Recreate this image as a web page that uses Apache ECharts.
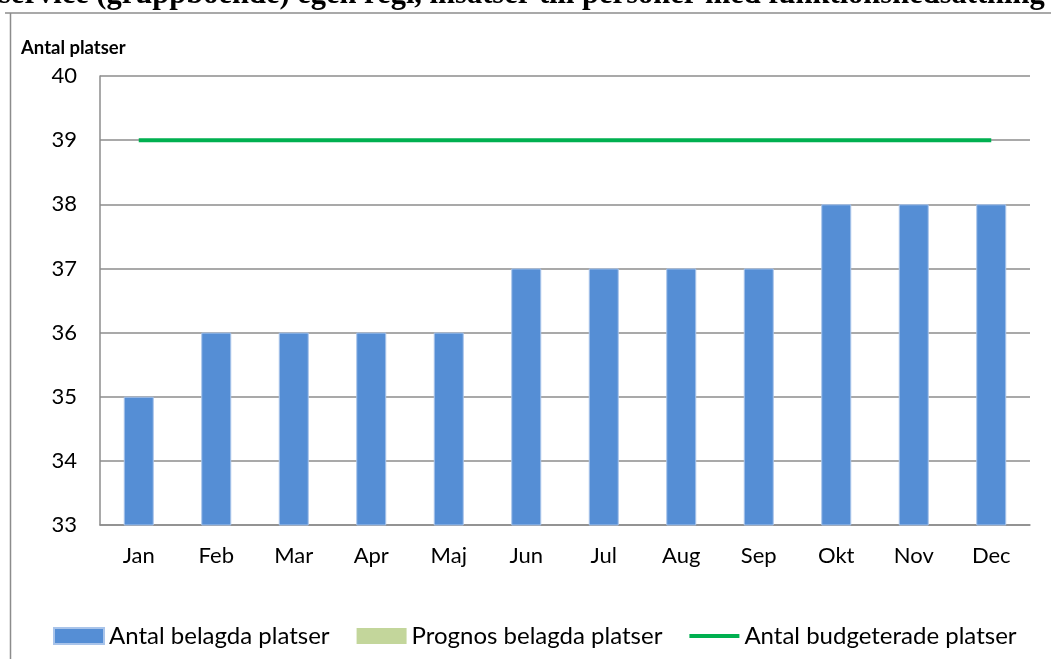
<!DOCTYPE html>
<html>
<head>
    <meta charset="utf-8">
    <title>Antal platser</title>
    <script src="https://cdn.jsdelivr.net/npm/echarts@6/dist/echarts.min.js"></script>
	<style>
	html, body { margin: 0; padding: 0; background: #fff; }
	#main {
		width: 1051px;
		height: 659px;
	}
	</style>
</head>
<body>
    <div id="main"></div>
    <script type="text/javascript">
        // data
        var months = ['Jan', 'Feb', 'Mar', 'Apr', 'Maj', 'Jun', 'Jul', 'Aug', 'Sep', 'Okt', 'Nov', 'Dec'];
        var belagda = [35, 36, 36, 36, 36, 37, 37, 37, 37, 38, 38, 38];
        var prognos = [];
        var budget = [39, 39, 39, 39, 39, 39, 39, 39, 39, 39, 39, 39];
        var yTicks = { min: 33, max: 40, step: 1 };

        var font = 'Lato, "Open Sans", sans-serif';
        var myChart = echarts.init(document.getElementById('main'));
		var option = {
			backgroundColor: '#ffffff',
			animation: false,
			graphic: [
				{
					type: 'text',
					left: -1,
					top: -20,
					style: {
						text: 'service (gruppboende) egen regi, insatser till personer med funktionsnedsättning',
						font: 'bold 30.5px "Liberation Serif", "DejaVu Serif", serif',
						fill: '#000'
					}
				},
				{
					type: 'polyline',
					shape: { points: [[5, 13], [1051, 13]] },
					style: { stroke: '#8c8c8c', lineWidth: 1.5 }
				},
				{
					type: 'polyline',
					shape: { points: [[10.5, 13], [10.5, 659]] },
					style: { stroke: '#8c8c8c', lineWidth: 1.5 }
				},
				{
					type: 'text',
					left: 21,
					top: 39,
					style: {
						text: 'Antal platser',
						font: 'bold 18.5px ' + font,
						fill: '#000'
					}
				}
			],
			legend: {
				left: 48,
				top: 619,
				itemWidth: 50,
				itemHeight: 16,
				itemGap: 27,
				textStyle: {
					color: '#000',
					fontSize: 24,
					fontFamily: font
				},
				data: [
					{ name: 'Antal belagda platser', icon: 'rect' },
					{ name: 'Prognos belagda platser', icon: 'rect' },
					{ name: 'Antal budgeterade platser', icon: 'path://M0,0M50,16M0,6H50V10H0Z' }
				]
			},
			grid: {
				left: 100,
				right: 21,
				top: 76,
				bottom: 134,
				containLabel: false
			},
			xAxis: {
				type: 'category',
				data: months,
				axisLine: { lineStyle: { color: '#8c8c8c', width: 1.5 } },
				axisTick: { show: false },
				axisLabel: {
					color: '#000',
					fontSize: 22,
					fontFamily: font,
					margin: 20
				}
			},
			yAxis: {
				type: 'value',
				min: yTicks.min,
				max: yTicks.max,
				interval: yTicks.step,
				axisLine: { show: true, lineStyle: { color: '#8c8c8c', width: 1.5 } },
				axisTick: { show: false },
				splitLine: { lineStyle: { color: '#8c8c8c', width: 1.5 } },
				axisLabel: {
					color: '#000',
					fontSize: 22,
					fontFamily: font,
					margin: 23
				}
			},
			series: [
				{
					name: 'Antal belagda platser',
					type: 'bar',
					barWidth: 30,
					barGap: '-100%',
					itemStyle: {
						color: '#558ed5',
						borderColor: '#a9c4ea',
						borderWidth: 1
					},
					data: belagda
				},
				{
					name: 'Prognos belagda platser',
					type: 'bar',
					barWidth: 30,
					itemStyle: { color: '#c3d69b' },
					data: prognos
				},
				{
					name: 'Antal budgeterade platser',
					type: 'line',
					symbol: 'none',
					lineStyle: { color: '#00b050', width: 4 },
					itemStyle: { color: '#00b050' },
					data: budget
				}
			]
		};
        myChart.setOption(option);
    </script>
</body>
</html>
